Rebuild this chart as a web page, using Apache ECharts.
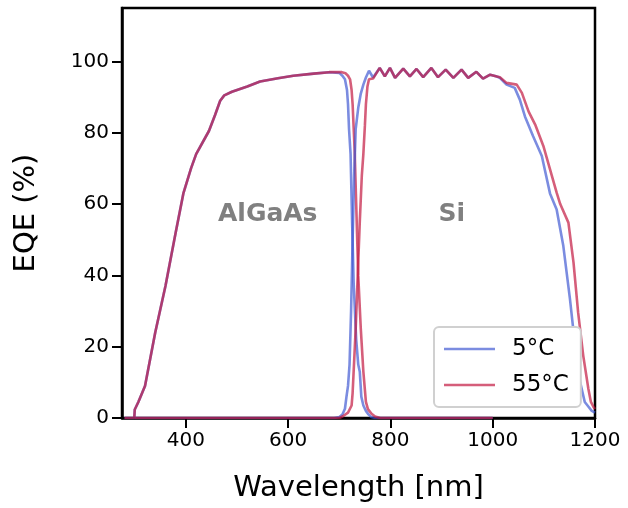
<!DOCTYPE html>
<html>
<head>
<meta charset="utf-8">
<script src="https://cdn.jsdelivr.net/npm/echarts@6/dist/echarts.min.js"></script>
<style>
html,body{margin:0;padding:0;background:#fff;}
#chart{width:628px;height:508px;}
</style>
</head>
<body>
<div id="chart"></div>
<script>
// ---- data ----
const seriesNames = ['5°C', '55°C'];
const xTicks = [400, 600, 800, 1000, 1200];
const yTicks = [0, 20, 40, 60, 80, 100];
const regionLabels = ['AlGaAs', 'Si'];
const regionLabelPos = [[560, 57], [920, 57]];

const algaas5C = [
  [280,0],[299,0],[300,2.4],[307,4.5],[320,9],[340,24],[360,37],[380,52],[395,63],[410,70],
  [420,74],[445,80.5],[457,85],[467,89],[475,90.5],[490,91.5],[520,93],[545,94.4],[580,95.3],
  [610,96],[650,96.6],[680,97],[700,96.8],[706,96],[711,95],[715,92],[717,88],[719,81],[722,74],
  [725,55],[728,38],[733,22],[737,15],[740,13],[743,6],[747,3.5],[752,2],[757,1],[762,0.3],[770,0],[1000,0]
];
const algaas55C = [
  [280,0],[299,0],[300,2.4],[307,4.5],[320,9],[340,24],[360,37],[380,52],[395,63],[410,70],
  [420,74],[445,80.5],[457,85],[467,89],[475,90.5],[490,91.5],[520,93],[545,94.4],[580,95.3],
  [610,96],[650,96.6],[680,97],[705,97],[712,96.7],[717,96],[721,95],[724,92],[726,88],[730,75],
  [733,60],[737,40],[742,25],[747,13],[752,4.5],[756,2.5],[763,1.2],[770,0.4],[780,0],[1000,0]
];
const si5C = [
  [300,0],[690,0],[700,0.3],[706,1],[711,2.6],[714,6],[717,9],[720,15],[723,30],[726,50],[729,68],
  [732,81],[737,87],[742,91],[747,93.5],[752,95.5],[758,97.4],[766,95.5],[779,98.2],[789,95.8],
  [799,98.2],[809,95.4],[825,98],[838,95.8],[851,97.9],[864,95.6],[880,98.2],[893,95.6],[908,97.7],
  [923,95.4],[939,97.7],[952,95.4],[968,97.1],[981,95.2],[995,96.3],[1008,95.8],[1014,95.4],
  [1027,93.5],[1043,92.6],[1053,89.3],[1063,84.6],[1079,79],[1096,73.5],[1112,63],[1125,58.5],
  [1138,48.3],[1151,33.4],[1161,20.3],[1171,10],[1180,4.5],[1193,2.1],[1200,1.5]
];
const si55C = [
  [300,0],[700,0],[707,0.5],[717,1.5],[724,3.5],[726,7],[728,13],[732,25],[736,40],[740,55],
  [744,68],[747,74],[750,82],[752,88],[755,93],[758,95],[766,95.2],[779,98.2],[789,95.8],
  [799,98.2],[809,95.4],[825,98],[838,95.8],[851,97.9],[864,95.6],[880,98.2],[893,95.6],[908,97.7],
  [923,95.4],[939,97.7],[952,95.4],[968,97.1],[981,95.2],[995,96.3],[1008,95.8],[1014,95.6],
  [1027,94],[1047,93.5],[1057,91.2],[1070,86],[1083,82.3],[1099,76.3],[1125,63.2],[1132,60],
  [1148,54.8],[1158,43.6],[1167,29.6],[1177,17.5],[1187,8.2],[1192,4.5],[1197,3.1],[1200,2.5]
];

// ---- chart ----
const FONT = 'DejaVu Sans';
const colors = ['rgba(60,85,210,0.68)', 'rgba(195,25,65,0.7)'];
const chart = echarts.init(document.getElementById('chart'), null, {renderer: 'canvas'});

function lineSeries(name, data, color, extra) {
  return Object.assign({
    name: name, type: 'line', data: data, symbol: 'none', smooth: false,
    lineStyle: {width: 2.6, color: color}, itemStyle: {color: color},
    animation: false, z: 2
  }, extra || {});
}

chart.setOption({
  animation: false,
  textStyle: {fontFamily: FONT},
  grid: {left: 122, right: 33, top: 8, bottom: 89, show: true, borderColor: '#000', borderWidth: 2.5, backgroundColor: 'transparent'},
  xAxis: {
    type: 'value', min: 275, max: 1200,
    name: 'Wavelength [nm]', nameLocation: 'middle', nameGap: 56,
    nameTextStyle: {fontSize: 29, color: '#000', fontFamily: FONT},
    axisLine: {show: true, lineStyle: {color: '#000', width: 2.5}},
    axisTick: {show: true, length: 10, inside: false, lineStyle: {color: '#000', width: 2}, customValues: xTicks},
    axisLabel: {fontSize: 20, color: '#000', margin: 13, customValues: xTicks, fontFamily: FONT,
      formatter: v => String(v)},
    splitLine: {show: false}
  },
  yAxis: {
    type: 'value', min: 0, max: 115,
    name: 'EQE (%)', nameLocation: 'middle', nameGap: 81, nameRotate: 90,
    nameTextStyle: {fontSize: 29, color: '#000', fontFamily: FONT},
    axisLine: {show: true, lineStyle: {color: '#000', width: 2.5}},
    axisTick: {show: true, length: 10, lineStyle: {color: '#000', width: 2}, customValues: yTicks},
    axisLabel: {fontSize: 20, color: '#000', margin: 13, customValues: yTicks, fontFamily: FONT,
      formatter: v => String(v)},
    splitLine: {show: false}
  },
  legend: {
    data: seriesNames, orient: 'vertical', left: 434, top: 327,
    padding: [9, 12, 9, 10], itemGap: 10,
    backgroundColor: '#fff', borderColor: '#d0d0d0', borderWidth: 2, borderRadius: 5,
    icon: 'rect', itemWidth: 51, itemHeight: 2.6,
    textStyle: {fontSize: 23, color: '#000', fontFamily: FONT, padding: [0, 0, 0, 12], lineHeight: 26}
  },
  series: [
    lineSeries(seriesNames[0], algaas5C, colors[0], {
      markPoint: {
        symbol: 'circle', symbolSize: 0, animation: false,
        label: {show: true, position: 'inside', fontSize: 25, fontWeight: 'bold', color: '#808080', fontFamily: FONT,
          formatter: p => p.name},
        data: [
          {name: regionLabels[0], coord: regionLabelPos[0]},
          {name: regionLabels[1], coord: regionLabelPos[1]}
        ]
      }
    }),
    lineSeries(seriesNames[1], algaas55C, colors[1]),
    lineSeries(seriesNames[0], si5C, colors[0]),
    lineSeries(seriesNames[1], si55C, colors[1])
  ]
});
</script>
</body>
</html>
